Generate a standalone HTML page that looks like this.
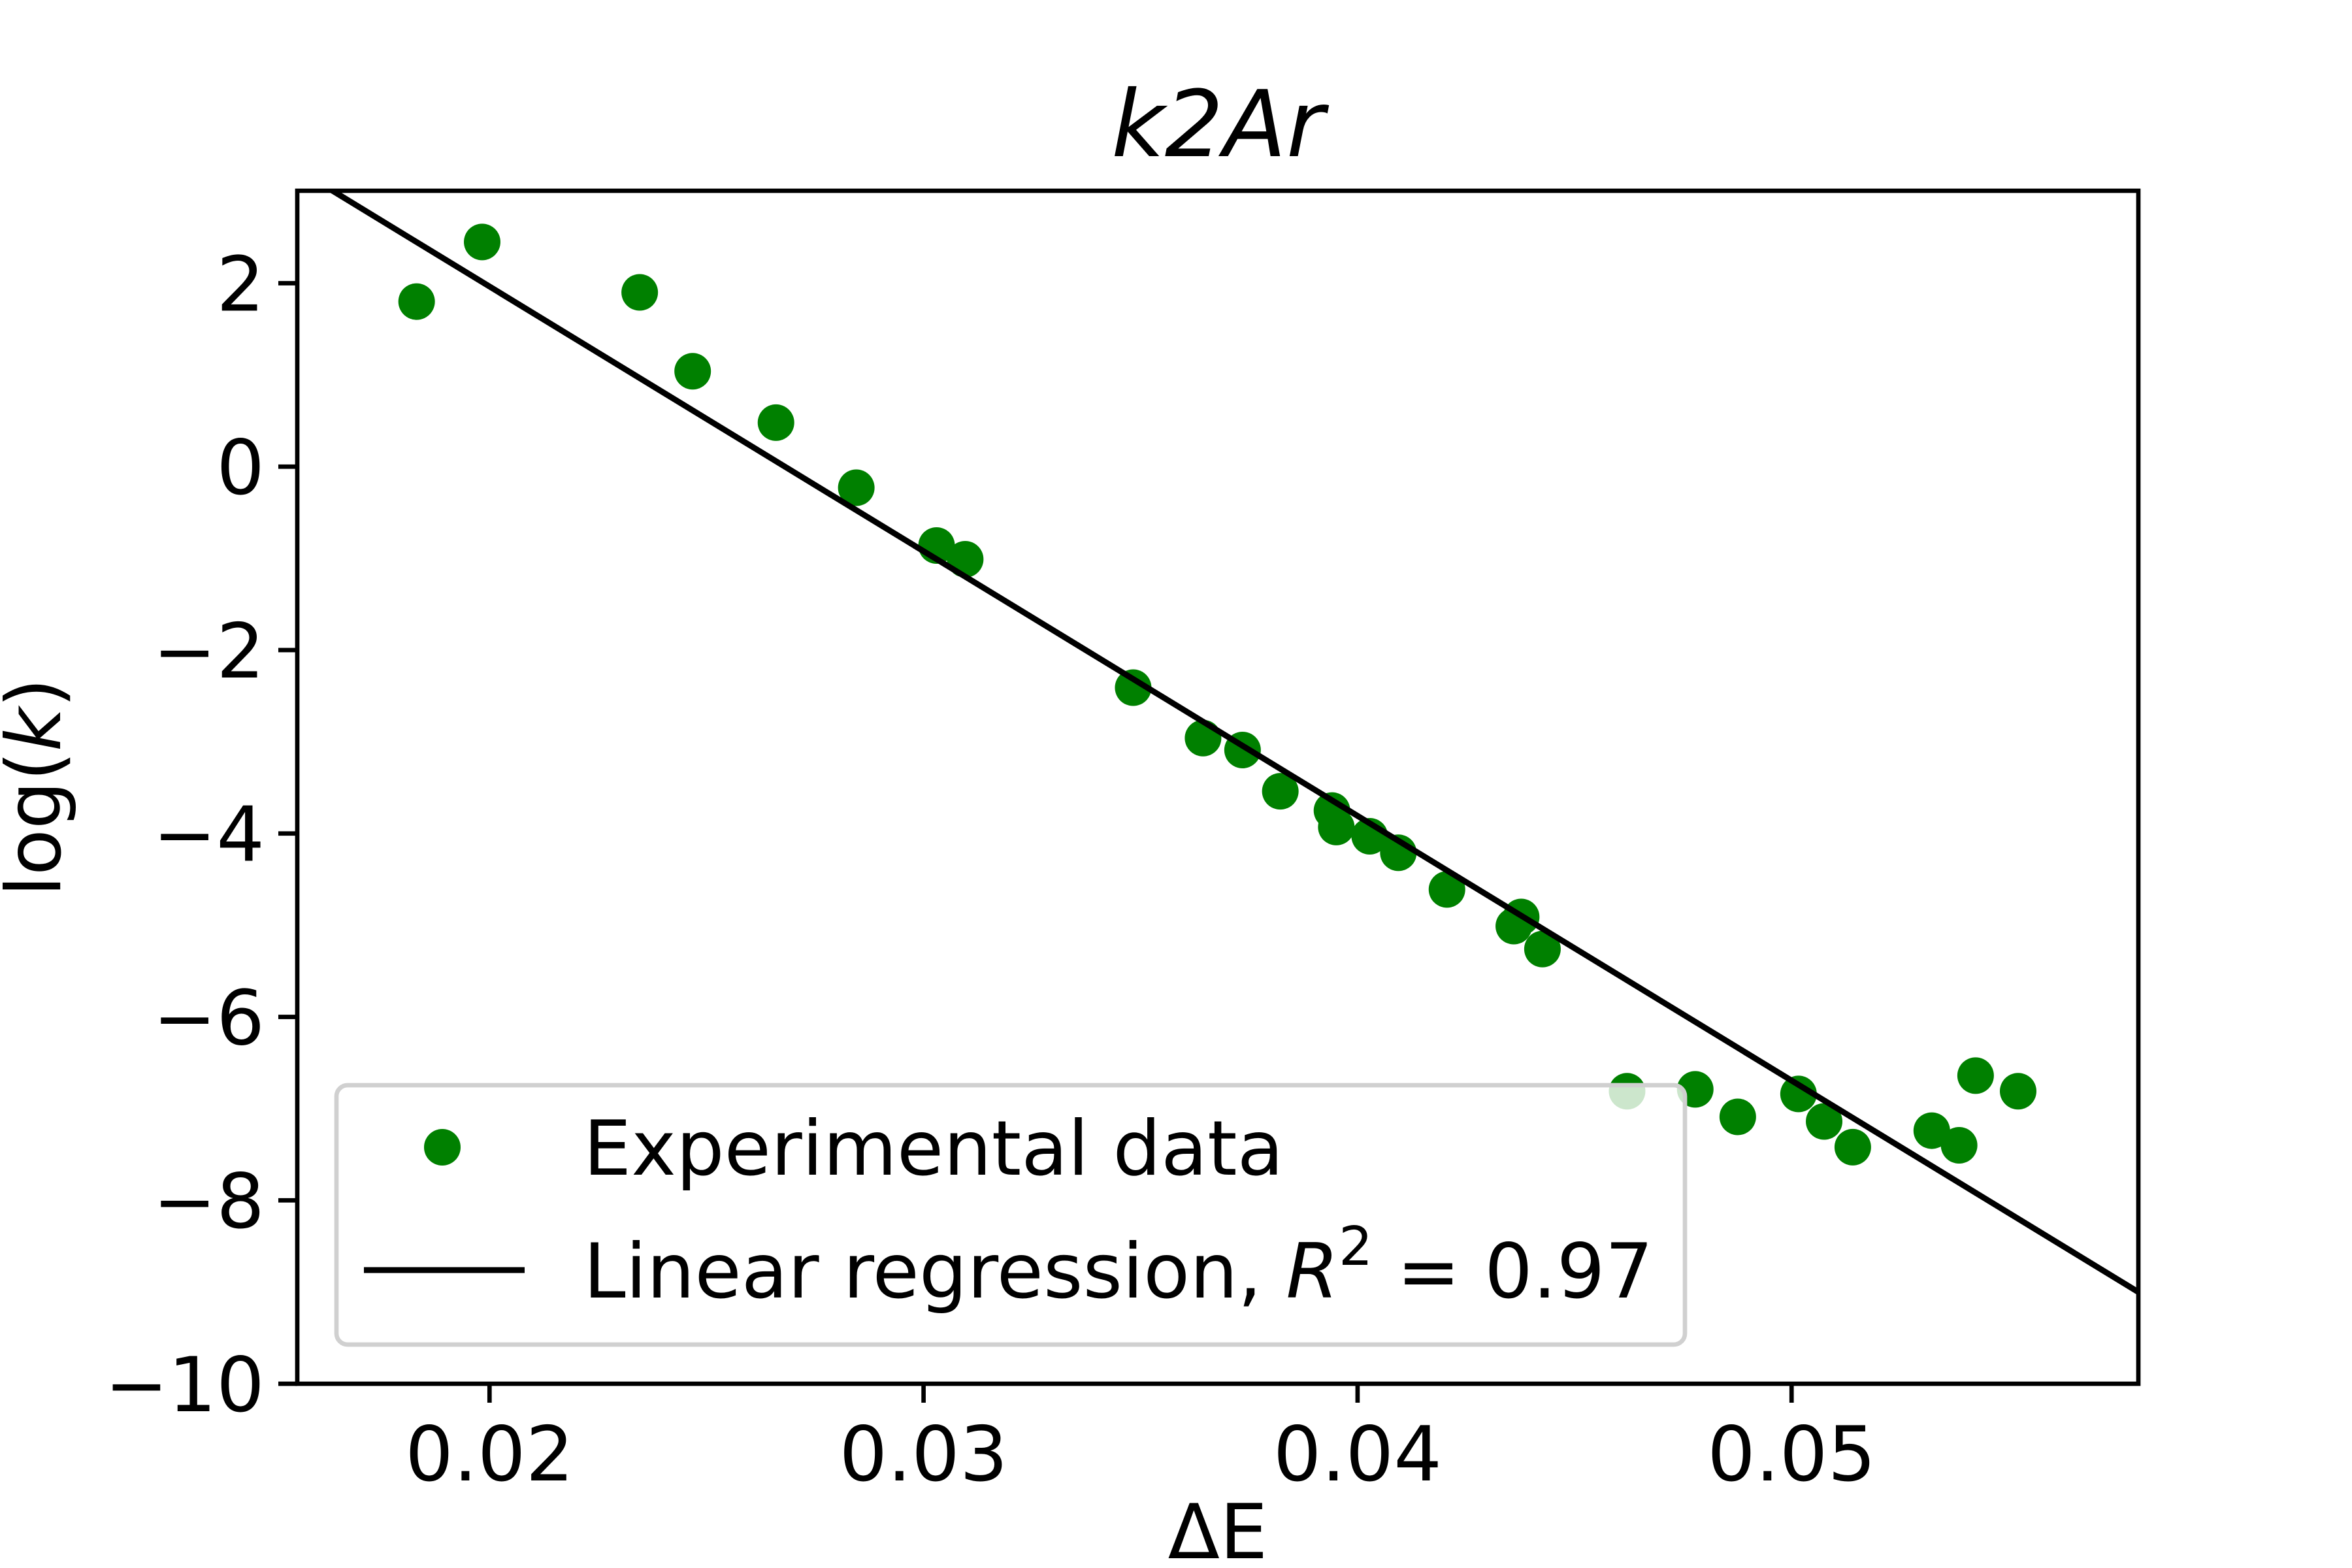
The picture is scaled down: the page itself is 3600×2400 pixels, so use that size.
<!DOCTYPE html>
<html><head><meta charset="utf-8"><style>html,body{margin:0;padding:0;background:#fff}svg{display:block}text{font-family:"DejaVu Sans","Liberation Sans",sans-serif}</style></head>
<body>
<svg id="chart" width="3600" height="2400" viewBox="0 0 3600 2400" xmlns="http://www.w3.org/2000/svg">
<rect width="3600" height="2400" fill="#fff"/>
<g id="plot"></g>
</svg>
<script>
const xs = [0.01832,0.01983,0.02346,0.02468,0.02660,0.02845,0.03030,0.03096,0.03483,0.03644,0.03735,0.03822,0.03941,0.03951,0.04028,0.04094,0.04206,0.04360,0.04377,0.04426,0.04621,0.04778,0.04876,0.05016,0.05075,0.05141,0.05323,0.05386,0.05424,0.05522];
const ys = [1.80,2.45,1.90,1.04,0.48,-0.23,-0.86,-1.01,-2.41,-2.96,-3.09,-3.54,-3.75,-3.93,-4.03,-4.21,-4.61,-5.01,-4.91,-5.26,-6.81,-6.79,-7.09,-6.84,-7.14,-7.42,-7.24,-7.40,-6.64,-6.81];
const fitSlope = -288.6;
const fitIntercept = 7.736;
const xTicks = [0.02,0.03,0.04,0.05];
const xTickLabels = ["0.02","0.03","0.04","0.05"];
const yTicks = [2,0,-2,-4,-6,-8,-10];
const yTickLabels = ["2","0","\u22122","\u22124","\u22126","\u22128","\u221210"];

const L=455,R=3273,T=292,B=2118;
const xmin=0.01557,xmax=0.05799,ymin=-10,ymax=3.008;
const sx=v=>L+(v-xmin)/(xmax-xmin)*(R-L);
const sy=v=>B-(v-ymin)/(ymax-ymin)*(B-T);
const NS="http://www.w3.org/2000/svg";
const g=document.getElementById('plot');
function mk(tag,attrs,parent){const e=document.createElementNS(NS,tag);for(const k in attrs)e.setAttribute(k,attrs[k]);(parent||g).appendChild(e);return e;}

const clip=mk('clipPath',{id:'c'});mk('rect',{x:L,y:T,width:R-L,height:B-T},clip);

const pts=mk('g',{'clip-path':'url(#c)'});


xs.forEach((x,i)=>{
  const c=mk('circle',{cx:sx(x),cy:sy(ys[i]),r:28,fill:'#008000'},pts);
  
  
});
const x0=xmin,x1=xmax;
const ln=mk('line',{x1:sx(x0),y1:sy(fitIntercept+fitSlope*x0),x2:sx(x1),y2:sy(fitIntercept+fitSlope*x1),stroke:'#000','stroke-width':9,'clip-path':'url(#c)'});



xTicks.forEach((t,i)=>{
  const tk=mk('line',{x1:sx(t),x2:sx(t),y1:B,y2:B+29,stroke:'#000','stroke-width':6.7});
  
  
  const tl=mk('text',{x:sx(t),y:2266,'font-size':116,'text-anchor':'middle'});
  tl.textContent=xTickLabels[i];
  
  
});
yTicks.forEach((t,i)=>{
  const tk=mk('line',{x1:L-29,x2:L,y1:sy(t),y2:sy(t),stroke:'#000','stroke-width':6.7});
  
  
  const tl=mk('text',{x:L-50,y:sy(t)+42,'font-size':116,'text-anchor':'end'});
  tl.textContent=yTickLabels[i];
  
  
});
const fr=mk('rect',{x:L,y:T,width:R-L,height:B-T,fill:'none',stroke:'#000','stroke-width':6.7});



const lg=mk('g',{});


mk('rect',{x:515,y:1661,width:2064,height:397,rx:17,fill:'rgba(255,255,255,0.8)',stroke:'#d0d0d0','stroke-width':6.7},lg);
const lm=mk('circle',{cx:677,cy:1756,r:28,fill:'#008000'},lg);


const ll=mk('line',{x1:557,x2:803,y1:1944,y2:1944,stroke:'#000','stroke-width':9},lg);


const t1=mk('text',{x:893,y:1798,'font-size':116},lg);
t1.textContent='Experimental data';


const t2=mk('text',{x:893,y:1986,'font-size':116},lg);
t2.innerHTML='Linear regression, <tspan font-style="italic">R</tspan><tspan font-size="82" dy="-50">2</tspan><tspan dy="50"> = 0.97</tspan>';



const ti=mk('text',{x:1864,y:239,'font-size':141,'text-anchor':'middle','font-style':'italic'});
ti.textContent='k2Ar';


const xl=mk('text',{x:1864,y:2385,'font-size':116,'text-anchor':'middle'});
xl.textContent='\u0394E';


const yl=mk('text',{x:0,y:0,'font-size':116,'text-anchor':'middle',transform:'translate(92,1205) rotate(-90)'});
yl.innerHTML='log(<tspan font-style="italic">k</tspan>)';


</script>
</body></html>
